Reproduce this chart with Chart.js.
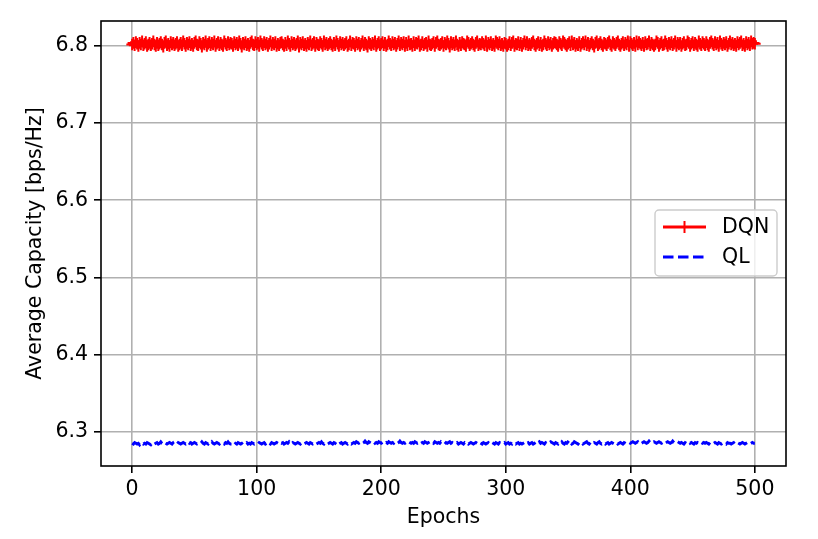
<!DOCTYPE html>
<html>
<head>
<meta charset="utf-8">
<script src="https://cdn.jsdelivr.net/npm/chart.js@4/dist/chart.umd.min.js"></script>
<style>
  body { margin: 0; background: #fff; }
  #wrap { width: 818px; height: 539px; }
</style>
</head>
<body>
<div id="wrap"><canvas id="capChart" width="818" height="539"></canvas></div>
<script>
const seriesNames = ['DQN', 'QL'];
const xTicks = [0, 100, 200, 300, 400, 500];
const yTicks = [6.3, 6.4, 6.5, 6.6, 6.7, 6.8];

// average capacity per epoch (epoch = array index)
const dqnCapacity = [
  6.802,6.804,6.801,6.805,6.803,6.800,6.804,6.802,6.806,6.801,6.803,6.805,6.800,6.802,6.804,6.801,6.803,6.806,6.802,6.800,
  6.804,6.801,6.803,6.805,6.802,6.799,6.804,6.806,6.801,6.803,6.800,6.805,6.802,6.804,6.801,6.803,6.805,6.800,6.802,6.804,
  6.801,6.806,6.803,6.800,6.804,6.802,6.805,6.801,6.803,6.800,6.804,6.806,6.802,6.801,6.805,6.803,6.799,6.804,6.802,6.806,
  6.800,6.803,6.805,6.801,6.804,6.802,6.806,6.800,6.803,6.805,6.801,6.804,6.802,6.800,6.806,6.803,6.801,6.805,6.802,6.804,
  6.803,6.800,6.805,6.802,6.804,6.801,6.806,6.803,6.799,6.804,6.802,6.805,6.801,6.803,6.800,6.804,6.806,6.802,6.801,6.805,
  6.802,6.804,6.800,6.806,6.803,6.801,6.805,6.802,6.804,6.800,6.803,6.806,6.801,6.804,6.802,6.805,6.800,6.803,6.801,6.804,
  6.805,6.802,6.800,6.804,6.801,6.806,6.803,6.800,6.805,6.802,6.804,6.801,6.803,6.806,6.799,6.804,6.802,6.805,6.801,6.803,
  6.800,6.804,6.802,6.806,6.801,6.803,6.805,6.800,6.804,6.802,6.801,6.805,6.803,6.800,6.806,6.802,6.804,6.801,6.803,6.805,
  6.802,6.800,6.804,6.801,6.806,6.803,6.800,6.805,6.802,6.804,6.801,6.803,6.805,6.800,6.802,6.806,6.801,6.804,6.803,6.800,
  6.805,6.802,6.804,6.800,6.803,6.806,6.801,6.804,6.802,6.799,6.805,6.803,6.801,6.804,6.802,6.806,6.800,6.803,6.805,6.801,
  6.803,6.805,6.801,6.804,6.800,6.802,6.806,6.803,6.801,6.805,6.802,6.804,6.800,6.803,6.806,6.801,6.804,6.802,6.805,6.800,
  6.804,6.801,6.806,6.802,6.803,6.800,6.805,6.801,6.804,6.803,6.806,6.800,6.802,6.805,6.801,6.803,6.804,6.800,6.806,6.802,
  6.801,6.803,6.805,6.800,6.804,6.806,6.802,6.801,6.803,6.805,6.800,6.804,6.802,6.806,6.803,6.799,6.805,6.802,6.804,6.801,
  6.806,6.802,6.800,6.804,6.801,6.805,6.803,6.802,6.800,6.806,6.804,6.801,6.803,6.805,6.802,6.800,6.804,6.806,6.801,6.803,
  6.802,6.805,6.803,6.801,6.806,6.800,6.804,6.802,6.805,6.801,6.803,6.800,6.806,6.804,6.802,6.805,6.801,6.803,6.800,6.804,
  6.803,6.800,6.802,6.805,6.801,6.804,6.806,6.800,6.803,6.802,6.805,6.801,6.804,6.800,6.803,6.806,6.802,6.805,6.801,6.803,
  6.801,6.804,6.806,6.802,6.800,6.803,6.805,6.801,6.804,6.800,6.802,6.806,6.803,6.801,6.805,6.802,6.804,6.800,6.803,6.805,
  6.804,6.802,6.800,6.805,6.803,6.801,6.806,6.804,6.802,6.800,6.803,6.805,6.801,6.806,6.802,6.804,6.800,6.803,6.801,6.805,
  6.800,6.803,6.805,6.802,6.806,6.801,6.804,6.800,6.803,6.805,6.802,6.799,6.804,6.806,6.801,6.803,6.805,6.802,6.800,6.804,
  6.803,6.801,6.804,6.806,6.802,6.800,6.805,6.803,6.801,6.804,6.806,6.802,6.800,6.803,6.805,6.801,6.804,6.802,6.806,6.800,
  6.805,6.803,6.801,6.804,6.800,6.806,6.802,6.805,6.803,6.801,6.804,6.800,6.805,6.802,6.803,6.806,6.801,6.804,6.802,6.800,
  6.802,6.806,6.804,6.800,6.803,6.805,6.801,6.802,6.806,6.803,6.800,6.804,6.802,6.805,6.801,6.803,6.806,6.800,6.804,6.802,
  6.804,6.800,6.803,6.805,6.801,6.802,6.806,6.804,6.800,6.803,6.805,6.801,6.804,6.802,6.800,6.806,6.803,6.801,6.805,6.803,
  6.801,6.805,6.802,6.800,6.804,6.806,6.803,6.801,6.805,6.802,6.804,6.800,6.806,6.803,6.801,6.804,6.802,6.805,6.800,6.803,
  6.806,6.802,6.804,6.801,6.803,6.800,6.805,6.802,6.804,6.806,6.801,6.803,6.800,6.805,6.802,6.804,6.801,6.806,6.803,6.804,
  6.803
];

const qlCapacity = [
  6.285,6.284,6.286,6.285,6.284,6.285,6.283,6.285,6.286,6.284,6.285,6.284,6.286,6.285,6.284,6.283,6.285,6.286,6.284,6.285,
  6.286,6.284,6.285,6.287,6.285,6.284,6.286,6.285,6.284,6.285,6.286,6.285,6.284,6.286,6.287,6.285,6.284,6.286,6.285,6.284,
  6.285,6.286,6.285,6.284,6.285,6.287,6.285,6.286,6.284,6.285,6.286,6.285,6.284,6.285,6.286,6.285,6.287,6.285,6.284,6.286,
  6.285,6.284,6.286,6.285,6.287,6.285,6.284,6.285,6.286,6.285,6.284,6.286,6.285,6.285,6.284,6.286,6.285,6.287,6.285,6.284,
  6.284,6.285,6.283,6.285,6.284,6.286,6.285,6.284,6.285,6.283,6.284,6.285,6.286,6.284,6.285,6.284,6.286,6.285,6.284,6.285,
  6.285,6.284,6.286,6.285,6.284,6.285,6.286,6.284,6.285,6.287,6.285,6.284,6.286,6.285,6.284,6.285,6.286,6.285,6.284,6.286,
  6.285,6.286,6.284,6.285,6.286,6.285,6.287,6.285,6.284,6.286,6.285,6.284,6.285,6.286,6.285,6.284,6.286,6.285,6.284,6.285,
  6.286,6.285,6.284,6.286,6.285,6.284,6.285,6.286,6.284,6.285,6.286,6.285,6.287,6.285,6.284,6.286,6.285,6.284,6.285,6.286,
  6.285,6.284,6.286,6.285,6.287,6.285,6.284,6.285,6.286,6.284,6.285,6.286,6.285,6.284,6.286,6.285,6.284,6.285,6.286,6.285,
  6.287,6.286,6.285,6.286,6.287,6.285,6.286,6.288,6.286,6.285,6.287,6.286,6.285,6.286,6.287,6.285,6.286,6.285,6.287,6.286,
  6.285,6.286,6.287,6.285,6.286,6.285,6.287,6.286,6.285,6.286,6.285,6.287,6.286,6.285,6.286,6.288,6.286,6.285,6.286,6.285,
  6.286,6.285,6.287,6.286,6.285,6.286,6.285,6.287,6.286,6.285,6.286,6.287,6.285,6.286,6.285,6.287,6.286,6.285,6.286,6.287,
  6.285,6.286,6.285,6.287,6.286,6.285,6.286,6.285,6.287,6.286,6.285,6.284,6.286,6.285,6.286,6.287,6.285,6.286,6.285,6.286,
  6.285,6.286,6.284,6.285,6.286,6.285,6.284,6.286,6.285,6.286,6.284,6.285,6.286,6.285,6.284,6.285,6.286,6.285,6.284,6.286,
  6.285,6.284,6.286,6.285,6.284,6.285,6.286,6.284,6.285,6.286,6.285,6.284,6.286,6.285,6.284,6.286,6.285,6.284,6.285,6.286,
  6.284,6.285,6.286,6.284,6.285,6.284,6.286,6.285,6.284,6.285,6.286,6.284,6.285,6.284,6.285,6.286,6.284,6.285,6.286,6.284,
  6.285,6.286,6.284,6.285,6.287,6.285,6.286,6.287,6.285,6.286,6.285,6.284,6.286,6.285,6.284,6.286,6.287,6.286,6.285,6.284,
  6.286,6.285,6.284,6.286,6.285,6.287,6.285,6.284,6.286,6.285,6.287,6.289,6.286,6.284,6.285,6.287,6.286,6.285,6.284,6.286,
  6.285,6.286,6.284,6.285,6.286,6.287,6.285,6.284,6.286,6.285,6.284,6.286,6.285,6.284,6.286,6.287,6.285,6.284,6.285,6.286,
  6.284,6.285,6.286,6.284,6.285,6.286,6.285,6.284,6.285,6.286,6.284,6.285,6.286,6.285,6.284,6.286,6.285,6.284,6.285,6.286,
  6.285,6.286,6.287,6.286,6.285,6.286,6.287,6.285,6.286,6.285,6.286,6.287,6.286,6.285,6.286,6.288,6.286,6.285,6.286,6.287,
  6.286,6.285,6.286,6.287,6.286,6.285,6.286,6.287,6.285,6.286,6.287,6.286,6.285,6.286,6.288,6.286,6.285,6.286,6.287,6.286,
  6.285,6.286,6.285,6.284,6.286,6.285,6.286,6.287,6.285,6.286,6.285,6.284,6.286,6.285,6.286,6.285,6.284,6.286,6.285,6.286,
  6.285,6.286,6.285,6.284,6.286,6.285,6.284,6.285,6.286,6.285,6.284,6.286,6.285,6.284,6.285,6.286,6.285,6.284,6.286,6.285,
  6.285,6.284,6.285,6.286,6.284,6.285,6.286,6.285,6.284,6.285,6.286,6.285,6.284,6.285,6.286,6.285,6.284,6.285,6.286,6.285,
  6.285
];

const FONT = { family: '"DejaVu Sans", sans-serif', size: 20.5 };

document.addEventListener('DOMContentLoaded', () => {
    const ctx = document.getElementById('capChart').getContext('2d');

    const toPoints = arr => arr.map((v, i) => ({ x: i, y: v }));

    // matplotlib-like frame + inner legend
    const frameAndLegend = {
        id: 'frameAndLegend',
        afterDraw(chart) {
            const c = chart.ctx;
            const a = chart.chartArea;
            c.save();
            c.strokeStyle = '#000';
            c.lineWidth = 1.6;
            c.strokeRect(a.left, a.top, a.right - a.left, a.bottom - a.top);

            // legend box
            const bx = a.right - 131, by = a.top + 189, bw = 122, bh = 66;
            c.beginPath();
            c.roundRect(bx, by, bw, bh, 4);
            c.fillStyle = 'rgba(255,255,255,0.8)';
            c.fill();
            c.strokeStyle = '#cccccc';
            c.lineWidth = 1.4;
            c.stroke();

            const hx0 = bx + 8, hx1 = bx + 51;
            const y1 = by + 17, y2 = by + 47;
            c.lineWidth = 2.9;
            c.strokeStyle = 'red';
            c.beginPath(); c.moveTo(hx0, y1); c.lineTo(hx1, y1); c.stroke();
            const mx = (hx0 + hx1) / 2;
            c.lineWidth = 2;
            c.beginPath(); c.moveTo(mx, y1 - 6); c.lineTo(mx, y1 + 6); c.stroke();

            c.strokeStyle = 'blue';
            c.lineWidth = 2.9;
            c.setLineDash([10.5, 4.5]);
            c.beginPath(); c.moveTo(hx0, y2); c.lineTo(hx1, y2); c.stroke();
            c.setLineDash([]);

            c.fillStyle = '#000';
            c.font = '20.5px "DejaVu Sans", sans-serif';
            c.textBaseline = 'middle';
            c.fillText(seriesNames[0], bx + 67, y1 + 1);
            c.fillText(seriesNames[1], bx + 67, y2 + 1);
            c.restore();
        }
    };

    new Chart(ctx, {
        type: 'line',
        data: {
            datasets: [{
                label: seriesNames[0],
                data: toPoints(dqnCapacity),
                borderColor: 'red',
                backgroundColor: 'red',
                borderWidth: 2.9,
                pointStyle: 'cross',
                pointRadius: 5.8,
                pointBorderWidth: 2,
                pointBorderColor: 'red',
                tension: 0,
                fill: false
            }, {
                label: seriesNames[1],
                data: toPoints(qlCapacity),
                borderColor: 'blue',
                borderWidth: 2.9,
                borderDash: [10.5, 4.5],
                pointRadius: 0,
                tension: 0,
                fill: false
            }]
        },
        options: {
            responsive: false,
            animation: false,
            layout: { padding: { top: 21, right: 32, left: 0, bottom: 0 } },
            plugins: {
                legend: { display: false },
                tooltip: { enabled: false }
            },
            scales: {
                x: {
                    type: 'linear',
                    min: -25,
                    max: 525,
                    border: { display: false },
                    grid: { color: '#b0b0b0', lineWidth: 1.6, tickColor: '#000', tickLength: 7, tickWidth: 1.6 },
                    afterBuildTicks: s => { s.ticks = xTicks.map(v => ({ value: v })); },
                    afterFit: s => { s.height = 73; },
                    ticks: { font: FONT, color: '#000', padding: 4, maxRotation: 0, callback: v => String(v) },
                    title: { display: true, text: 'Epochs', font: FONT, color: '#000', padding: { top: 0, bottom: 9 } }
                },
                y: {
                    min: 6.2556,
                    max: 6.8324,
                    border: { display: false },
                    grid: { color: '#b0b0b0', lineWidth: 1.6, tickColor: '#000', tickLength: 7, tickWidth: 1.6 },
                    afterBuildTicks: s => { s.ticks = yTicks.map(v => ({ value: v })); },
                    afterFit: s => { s.width = 101; },
                    ticks: { font: FONT, color: '#000', padding: 6, callback: v => v.toFixed(1) },
                    title: { display: true, text: 'Average Capacity [bps/Hz]', font: FONT, color: '#000', padding: { top: 23, bottom: 0 } }
                }
            }
        },
        plugins: [frameAndLegend]
    });
});
</script>
</body>
</html>
